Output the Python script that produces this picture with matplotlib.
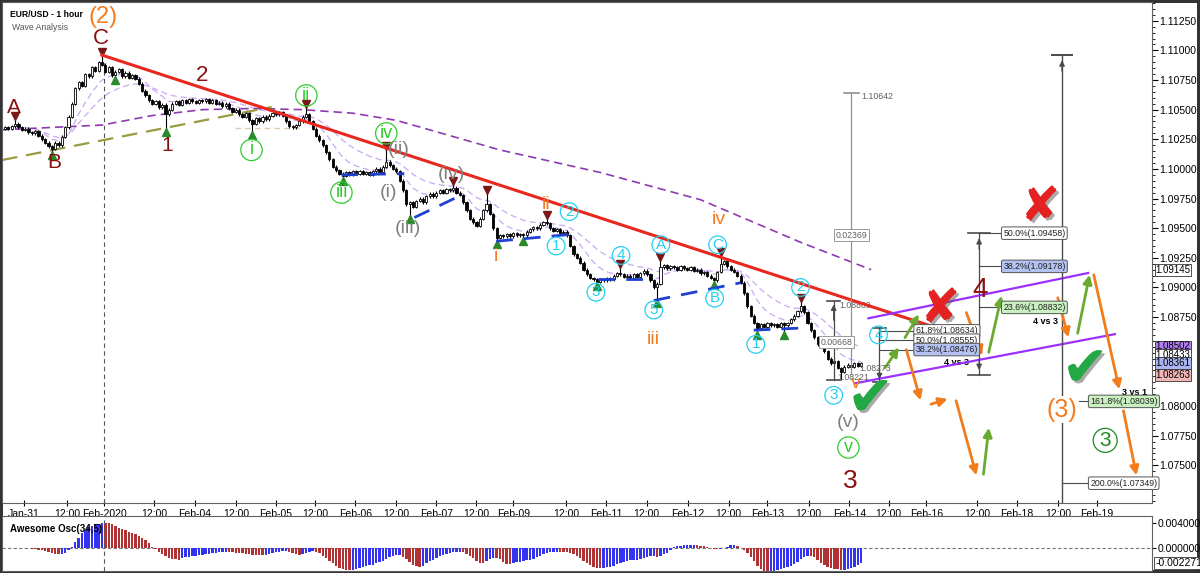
import numpy as np
import pandas as pd
import matplotlib
matplotlib.use('Agg')
import matplotlib.pyplot as plt
import matplotlib.patheffects as pe
from matplotlib.ticker import FormatStrFormatter, MultipleLocator

plt.rcParams['font.family'] = ['Liberation Sans', 'DejaVu Sans']

# hourly closes, EUR/USD (bar 0 = Jan-31 early)
closes = [
    1.1035, 1.1034, 1.1036, 1.1038, 1.1035, 1.1033, 1.1034, 1.1031, 1.1030, 1.1032,
    1.1028, 1.1025, 1.1022, 1.1019, 1.1017, 1.1022, 1.1020, 1.1027, 1.1035, 1.1044,
    1.1055, 1.1068, 1.1073, 1.1070, 1.1080, 1.1078, 1.1086, 1.1083, 1.1090, 1.1088,
    1.1082, 1.1086, 1.1079, 1.1082, 1.1084, 1.1078, 1.1081, 1.1077, 1.1079, 1.1076,
    1.1072, 1.1066, 1.1062, 1.1058, 1.1055, 1.1057, 1.1052, 1.1054, 1.1046, 1.1050,
    1.1055, 1.1057, 1.1054, 1.1058, 1.1056, 1.1059, 1.1057, 1.1056, 1.1058, 1.1057,
    1.1059, 1.1056, 1.1058, 1.1055, 1.1056, 1.1053, 1.1055, 1.1051, 1.1048, 1.1050,
    1.1046, 1.1044, 1.1047, 1.1041, 1.1038, 1.1043, 1.1040, 1.1044, 1.1042, 1.1045,
    1.1047, 1.1046, 1.1048, 1.1045, 1.1040, 1.1036, 1.1035, 1.1037, 1.1040, 1.1044,
    1.1046, 1.1040, 1.1034, 1.1028, 1.1024, 1.1020, 1.1014, 1.1008, 1.1002, 1.0999,
    1.0996, 1.0994, 1.0997, 1.0995, 1.0998, 1.0996, 1.0998, 1.0996, 1.0997, 1.0995,
    1.0998, 1.1000, 1.0997, 1.1002, 1.1006, 1.1003, 1.1000, 1.0998, 1.0990, 1.0982,
    1.0970, 1.0972, 1.0968, 1.0973, 1.0975, 1.0972, 1.0977, 1.0979, 1.0977, 1.0980,
    1.0982, 1.0980, 1.0983, 1.0982, 1.0984, 1.0980, 1.0978, 1.0972, 1.0965, 1.0958,
    1.0955, 1.0952, 1.0958, 1.0965, 1.0970, 1.0962, 1.0950, 1.0942, 1.0944, 1.0943,
    1.0945, 1.0943, 1.0946, 1.0944, 1.0945, 1.0944, 1.0947, 1.0949, 1.0951, 1.0950,
    1.0953, 1.0955, 1.0954, 1.0950, 1.0948, 1.0949, 1.0946, 1.0947, 1.0944, 1.0935,
    1.0928, 1.0925, 1.0921, 1.0915, 1.0911, 1.0908, 1.0907, 1.0905, 1.0907, 1.0906,
    1.0908, 1.0907, 1.0910, 1.0912, 1.0911, 1.0909, 1.0910, 1.0908, 1.0911, 1.0909,
    1.0912, 1.0914, 1.0911, 1.0906, 1.0900, 1.0903, 1.0917, 1.0919, 1.0916, 1.0918,
    1.0917, 1.0915, 1.0918, 1.0916, 1.0915, 1.0917, 1.0914, 1.0915, 1.0912, 1.0913,
    1.0910, 1.0908, 1.0906, 1.0913, 1.0920, 1.0922, 1.0918, 1.0915, 1.0913, 1.0910,
    1.0904, 1.0895, 1.0884, 1.0876, 1.0870, 1.0866, 1.0869, 1.0867, 1.0870, 1.0868,
    1.0869, 1.0867, 1.0870, 1.0868, 1.0870, 1.0873, 1.0876, 1.0880, 1.0884, 1.0879,
    1.0870, 1.0864, 1.0858, 1.0852, 1.0850, 1.0846, 1.0840, 1.0836, 1.0838, 1.0832,
    1.0829, 1.0833, 1.0835, 1.0833, 1.0836, 1.0834, 1.0836,
]
first_open = 1.1034

# wick extremes at the marked swing points
spike_hi = {3: 1.1043, 29: 1.1097, 90: 1.1053, 114: 1.1017, 134: 1.0988, 144: 1.0980,
            162: 1.0959, 184: 1.0918, 196: 1.0924, 214: 1.0928, 238: 1.0889}
spike_lo = {14: 1.1014, 33: 1.1077, 48: 1.1033, 74: 1.1031, 101: 1.0992, 121: 1.0960,
            147: 1.0939, 155: 1.0941, 177: 1.0903, 195: 1.0889, 212: 1.0904,
            225: 1.0862, 233: 1.0862, 250: 1.0822}

# long moving average (purple dashed), read at a few bars
ma_x = [-1, 29, 44, 59, 74, 89, 104, 117, 148, 178, 208, 238, 259]
ma_y = [1.1033, 1.1037, 1.1045, 1.1050, 1.1051, 1.1050, 1.1047, 1.1041, 1.1016,
        1.0997, 1.0974, 1.0938, 1.0915]

tick_pos = [5.7, 18.5, 29.6, 44.5, 56.7, 69, 80.9, 92.8, 104.8, 117, 129, 140.9, 152,
            167.8, 179.7, 191.9, 204.2, 216.4, 228, 240.3, 252.5, 264.2, 275.5, 290.7,
            302.7, 314.9, 326.6]
tick_lab = ['Jan-31', '12:00', 'Feb-2020', '12:00', 'Feb-04', '12:00', 'Feb-05', '12:00',
            'Feb-06', '12:00', 'Feb-07', '12:00', 'Feb-09', '12:00', 'Feb-11', '12:00',
            'Feb-12', '12:00', 'Feb-13', '12:00', 'Feb-14', '12:00', 'Feb-16', '12:00',
            'Feb-18', '12:00', 'Feb-19']

price_ticks = [1.075, 1.0775, 1.08, 1.0875, 1.09, 1.0925, 1.095, 1.0975, 1.1, 1.1025,
               1.105, 1.1075, 1.11, 1.1125]

axis_marks = [(1.09145, 'white'), (1.08502, '#b27cf2'), (1.08433, 'white'),
              (1.08361, '#aab4f2'), (1.08263, '#f2b6b6')]

DR = '#8b1010'
OR = '#f47c20'
GR = '#2ecc2e'
CY = '#22d0f0'
GY = '#808080'

# text, bar, price, colour, size, circled
wave_labels = [
    ('(2)', 29.2, 1.1128, OR, 17, False), ('C', 28.7, 1.1110, DR, 16, False),
    ('A', 2.7, 1.1052, DR, 15, False), ('B', 14.6, 1.1005, DR, 15, False),
    ('1', 48.4, 1.1020, DR, 15, False), ('2', 58.8, 1.1079, DR, 16, False),
    ('4', 291.6, 1.0898, DR, 20, False), ('3', 252.8, 1.0737, DR, 19, False),
    ('ii', 90.1, 1.1062, GR, 13, True), ('i', 73.7, 1.1016, GR, 13, True),
    ('iii', 100.6, 1.0980, GR, 13, True), ('iv', 114, 1.1030, GR, 13, True),
    ('v', 252.2, 1.0765, GR, 13, True), ('3', 329, 1.0771, '#1e8a1e', 15, True),
    ('(ii)', 117.6, 1.1016, GY, 14, False), ('(i)', 114.6, 1.0980, GY, 14, False),
    ('(iii)', 120.6, 1.0950, GY, 14, False), ('(iv)', 133.4, 1.0995, GY, 14, False),
    ('(v)', 252.2, 1.0786, GY, 14, False),
    ('ii', 161.8, 1.0970, OR, 14, False), ('i', 146.9, 1.0926, OR, 14, False),
    ('iii', 194, 1.0856, OR, 14, False), ('iv', 213.4, 1.0957, OR, 14, False),
    ('v', 254.3, 1.0819, OR, 14, False),
    ('1', 164.8, 1.0935, CY, 11, True), ('2', 168.7, 1.0964, CY, 11, True),
    ('3', 176.7, 1.0896, CY, 11, True), ('4', 184.2, 1.0927, CY, 11, True),
    ('5', 194, 1.0881, CY, 11, True), ('A', 196.1, 1.0936, CY, 11, True),
    ('B', 212.2, 1.0891, CY, 11, True), ('C', 213.1, 1.0936, CY, 11, True),
    ('1', 224.5, 1.0852, CY, 11, True), ('2', 237.9, 1.0900, CY, 11, True),
    ('3', 247.8, 1.0809, CY, 11, True), ('4', 261.2, 1.0860, CY, 11, True),
]

c = np.array(closes)
n = len(c)
idx = np.arange(n)
o = np.r_[first_open, c[:-1]]
hi = np.maximum(o, c) + 0.00012
lo = np.minimum(o, c) - 0.00012
for k, v in spike_hi.items():
    hi[k] = max(hi[k], v)
for k, v in spike_lo.items():
    lo[k] = min(lo[k], v)

fig = plt.figure(figsize=(12, 5.73), dpi=100)
fig.patch.set_edgecolor('#333333')
fig.patch.set_linewidth(3)
ax = fig.add_axes([0.0017, 0.1222, 0.9583, 0.8743])
ax2 = fig.add_axes([0.0017, 0.0035, 0.9583, 0.0960])
XL = (-0.9, 343)
ax.set_xlim(*XL)
ax.set_ylim(1.07182, 1.11408)

# moving averages
s = pd.Series(c)
for span in (10, 24):
    ax.plot(idx, s.ewm(span=span).mean(), color='#c9a9f2', lw=0.9, ls=(0, (5, 3)), zorder=1)
ax.plot(ma_x, ma_y, color='#8e3ab0', lw=1.2, ls=(0, (5, 3)), zorder=1)
ax.plot([-0.9, 79.7], [1.10075, 1.10522], color='#9a9a40', lw=1.6, ls=(0, (7, 4)), zorder=1)
ax.plot([68.7, 88.7], [1.10345, 1.10345], color='#dccbb0', lw=1, ls=(0, (4, 3)), zorder=1)

# candles
ax.vlines(idx, lo, hi, color='black', lw=0.8, zorder=2)
up = c >= o
body = np.maximum(np.abs(c - o), 0.00004)
bot = np.minimum(o, c)
ax.bar(idx[up], body[up], bottom=bot[up], width=0.65, color='white', edgecolor='black', lw=0.6, zorder=3)
ax.bar(idx[~up], body[~up], bottom=bot[~up], width=0.65, color='black', edgecolor='black', lw=0.6, zorder=3)

# pivot markers
for k in spike_hi:
    ax.plot(k, hi[k] + 0.0002, marker='v', color='#7a1818', ms=6, zorder=4)
for k in spike_lo:
    if k == 250:
        continue
    ax.plot(k, lo[k] - 0.0002, marker='^', color='#2a8a2a', ms=6, zorder=4)

ax.plot([29.6, 29.6], [1.07182, 1.1090], color='#555555', lw=0.8, ls=(0, (4, 3)))

# trend line, wave connectors
ax.plot([29, 276], [1.1096, 1.08683], color='#e8281e', lw=2.2, zorder=5)
blue_segs = [((100.6, 1.0995), (119.4, 1.0996)), ((122.4, 1.0959), (137.3, 1.0979)),
             ((146.9, 1.0939), (170.1, 1.0945)), ((177.3, 1.0907), (193.1, 1.0907)),
             ((194, 1.0889), (220, 1.0904)), ((223.9, 1.0864), (240, 1.0866))]
for a, b in blue_segs:
    ax.plot([a[0], b[0]], [a[1], b[1]], color='#2040d0', lw=2, ls=(0, (6, 4)), zorder=5)

for txt, x, y, col, fs, circ in wave_labels:
    kw = {}
    if circ:
        kw['bbox'] = dict(boxstyle='circle,pad=0.12', fc='none', ec=col, lw=0.9)
    ax.text(x, y, txt, color=col, fontsize=fs, ha='center', va='center', zorder=7, **kw)
ax.text(316.1, 1.0797, '(3)', color=OR, fontsize=18, ha='center', va='center', zorder=7,
        bbox=dict(boxstyle='square,pad=0.05', fc='white', ec='none'))

# projection channel
ax.plot([258.2, 323.9], [1.08740, 1.09122], color='#9b30ff', lw=1.6, zorder=5)
ax.plot([254.3, 331.9], [1.08192, 1.08606], color='#9b30ff', lw=1.6, zorder=5)

MC = '#4a4a4a'


def box(x, y, s, fc='white'):
    ax.text(x, y, s, fontsize=6.3, ha='left', va='center', color='#222222', zorder=8,
            bbox=dict(boxstyle='round,pad=0.2', fc=fc, ec='#555555', lw=0.7))


def measure(x, y0, y1, half=2.5):
    ax.plot([x, x], [y0, y1], color=MC, lw=0.9, zorder=6)
    for yy in (y0, y1):
        ax.plot([x - half, x + half], [yy, yy], color=MC, lw=1.2, zorder=6)


# measurement tools
ax.plot([253.1, 253.1], [1.08273, 1.10642], color='#909090', lw=0.9, zorder=6)
ax.plot([250.9, 255.4], [1.10642, 1.10642], color='#909090', lw=1.2, zorder=6)
ax.text(256, 1.1061, '1.10642', fontsize=6.3, color='#606060', va='center')
ax.text(253.1, 1.09442, '0.02369', fontsize=6.3, color='#606060', ha='center', va='center', zorder=8,
        bbox=dict(boxstyle='square,pad=0.2', fc='white', ec='#999999', lw=0.7))

measure(247.8, 1.08221, 1.08889, 2)
ax.annotate('', xy=(247.8, 1.0888), xytext=(247.8, 1.0870),
            arrowprops=dict(arrowstyle='-|>', color=MC, lw=0.9, mutation_scale=8))
ax.text(249.5, 1.0885, '1.08889', fontsize=6.3, color='#606060', va='center')
ax.text(248.7, 1.08539, '0.00668', fontsize=6.3, color='#606060', ha='center', va='center', zorder=8,
        bbox=dict(boxstyle='square,pad=0.2', fc='white', ec='#999999', lw=0.7))
ax.text(249, 1.0824, '1.08221', fontsize=6.3, color='#606060', va='center', zorder=8)
ax.text(255.5, 1.0832, '1.08273', fontsize=6.3, color='#606060', va='center', zorder=8)

measure(261.5, 1.08202, 1.08660, 2)
ax.annotate('', xy=(261.5, 1.08202), xytext=(261.5, 1.0835),
            arrowprops=dict(arrowstyle='-|>', color=MC, lw=0.9, mutation_scale=8))
for lvl, s_, fc in [(1.08634, '61.8%(1.08634)', 'white'), (1.08555, '50.0%(1.08555)', 'white'),
                    (1.08476, '38.2%(1.08476)', '#b4c2f2')]:
    ax.plot([261.5, 272], [lvl, lvl], color=MC, lw=0.8, zorder=6)
    box(272.3, lvl, s_, fc)

measure(291.3, 1.08263, 1.09458, 3.3)
ax.annotate('', xy=(291.3, 1.0944), xytext=(291.3, 1.0930),
            arrowprops=dict(arrowstyle='-|>', color=MC, lw=0.9, mutation_scale=8))
ax.annotate('', xy=(291.3, 1.0828), xytext=(291.3, 1.0842),
            arrowprops=dict(arrowstyle='-|>', color=MC, lw=0.9, mutation_scale=8))
for lvl, s_, fc in [(1.09458, '50.0%(1.09458)', 'white'), (1.09178, '38.2%(1.09178)', '#b4c2f2'),
                    (1.08832, '23.6%(1.08832)', '#c8f0c0')]:
    ax.plot([291.3, 298.3], [lvl, lvl], color=MC, lw=0.8, zorder=6)
    box(298.5, lvl, s_, fc)
ax.text(311.3, 1.08717, '4 vs 3', fontsize=6.5, fontweight='bold', ha='center', va='center')
ax.text(284.5, 1.08363, '4 vs 3', fontsize=6.5, fontweight='bold', ha='center', va='center')

ax.plot([316.1, 316.1], [1.07182, 1.10961], color=MC, lw=1.0, zorder=6)
ax.plot([313, 319.2], [1.10961, 1.10961], color=MC, lw=1.4, zorder=6)
ax.annotate('', xy=(316.1, 1.1094), xytext=(316.1, 1.1080),
            arrowprops=dict(arrowstyle='-|>', color=MC, lw=0.9, mutation_scale=8))
for lvl, s_, fc in [(1.08039, '161.8%(1.08039)', '#c8f0c0'), (1.07349, '200.0%(1.07349)', 'white')]:
    ax.plot([316.1, 324], [lvl, lvl], color=MC, lw=0.8, zorder=6)
    box(324.5, lvl, s_, fc)
ax.text(337.9, 1.0811, '3 vs 1', fontsize=6.5, fontweight='bold', ha='center', va='center')

# scenario arrows
orange_arrows = [((269.3, 1.08498), (274.0, 1.08025)), ((276.1, 1.08008), (282.7, 1.08067)),
                 ((284.2, 1.08067), (290.7, 1.07393)), ((287.2, 1.08810), (292.5, 1.08405)),
                 ((314.6, 1.08936), (318.2, 1.08557)), ((325.4, 1.09130), (333.4, 1.08118)),
                 ((334.3, 1.07983), (338.5, 1.07393))]
green_arrows = [((262.7, 1.08303), (267.8, 1.08514)), ((268.7, 1.08557), (273.7, 1.08793)),
                ((294.0, 1.08430), (298.2, 1.08953)), ((320.6, 1.08591), (324.5, 1.09130)),
                ((292.5, 1.07401), (294.3, 1.07840))]
for a, b in orange_arrows:
    ax.annotate('', xy=b, xytext=a, zorder=6,
                arrowprops=dict(arrowstyle='-|>', color='#f07c1c', lw=2, mutation_scale=13))
for a, b in green_arrows:
    ax.annotate('', xy=b, xytext=a, zorder=6,
                arrowprops=dict(arrowstyle='-|>', color='#6aaa30', lw=2, mutation_scale=13))

shadow = [pe.withSimplePatchShadow(offset=(2, -2), shadow_rgbFace='#555555', alpha=0.5), pe.Normal()]
for x, y in [(279.7, 1.0881), (309.6, 1.0967)]:
    ax.text(x, y, '\u2718', fontsize=34, color='#e52222', ha='center', va='center',
            family='DejaVu Sans', zorder=9, path_effects=shadow)
for x, y in [(258.8, 1.0805), (323, 1.0830)]:
    ax.text(x, y, '\u2714', fontsize=40, color='#22a844', ha='center', va='center',
            family='DejaVu Sans', zorder=9, path_effects=shadow)

ax.text(0.007, 0.985, 'EUR/USD - 1 hour', transform=ax.transAxes, fontsize=6.2, fontweight='bold',
        ha='left', va='top')
ax.text(0.009, 0.958, 'Wave Analysis', transform=ax.transAxes, fontsize=6.2, color='#555555',
        ha='left', va='top')

# axes styling
ax.yaxis.tick_right()
ax.set_yticks(price_ticks)
ax.yaxis.set_major_formatter(FormatStrFormatter('%.5f'))
ax.yaxis.set_minor_locator(MultipleLocator(0.0005))
ax.tick_params(axis='y', which='major', labelsize=7.5, length=4, direction='out', pad=1)
ax.tick_params(axis='y', which='minor', length=2, direction='out')
ax.set_xticks(tick_pos)
ax.set_xticklabels(tick_lab)
ax.tick_params(axis='x', labelsize=7.5, length=4, direction='inout', pad=2)
for sp in ax.spines.values():
    sp.set_color('#606060')
    sp.set_linewidth(0.8)

trans = ax.get_yaxis_transform()
for val, fc in axis_marks:
    ax.text(1.003, val, '%.5f' % val, transform=trans, fontsize=7, ha='left', va='center',
            clip_on=False, zorder=10,
            bbox=dict(boxstyle='square,pad=0.08', fc=fc, ec='#333333', lw=0.6))

# awesome oscillator
med = pd.Series((hi + lo) / 2)
ao = (med.rolling(5, min_periods=1).mean() - med.rolling(34, min_periods=1).mean()).values
cols = ['#3434f0' if i == 0 or ao[i] >= ao[i - 1] else '#b03232' for i in range(n)]
ax2.bar(idx, ao, width=0.72, color=cols, zorder=2)
ax2.set_xlim(*XL)
ax2.set_ylim(-0.00355, 0.00504)
ax2.axhline(0, color='#777777', lw=0.8, ls=(0, (3, 2)), zorder=1)
ax2.axvline(29.6, color='#555555', lw=0.8, ls=(0, (4, 3)), zorder=3)
ax2.yaxis.tick_right()
ax2.set_yticks([0.004, 0.0])
ax2.yaxis.set_major_formatter(FormatStrFormatter('%.6f'))
ax2.tick_params(axis='y', labelsize=7.5, length=3, pad=1)
ax2.tick_params(axis='x', bottom=False, labelbottom=False)
for sp in ax2.spines.values():
    sp.set_color('#606060')
    sp.set_linewidth(0.8)
ax2.text(0.007, 0.86, 'Awesome Osc(34,5)', transform=ax2.transAxes, fontsize=7,
         fontweight='bold', ha='left', va='top', zorder=5)
ax2.text(1.003, -0.002271, '-0.002271', transform=ax2.get_yaxis_transform(), fontsize=7.5,
         ha='left', va='center', clip_on=False,
         bbox=dict(boxstyle='square,pad=0.12', fc='white', ec='#333333', lw=0.6))

fig.savefig('out.png', dpi=100)
